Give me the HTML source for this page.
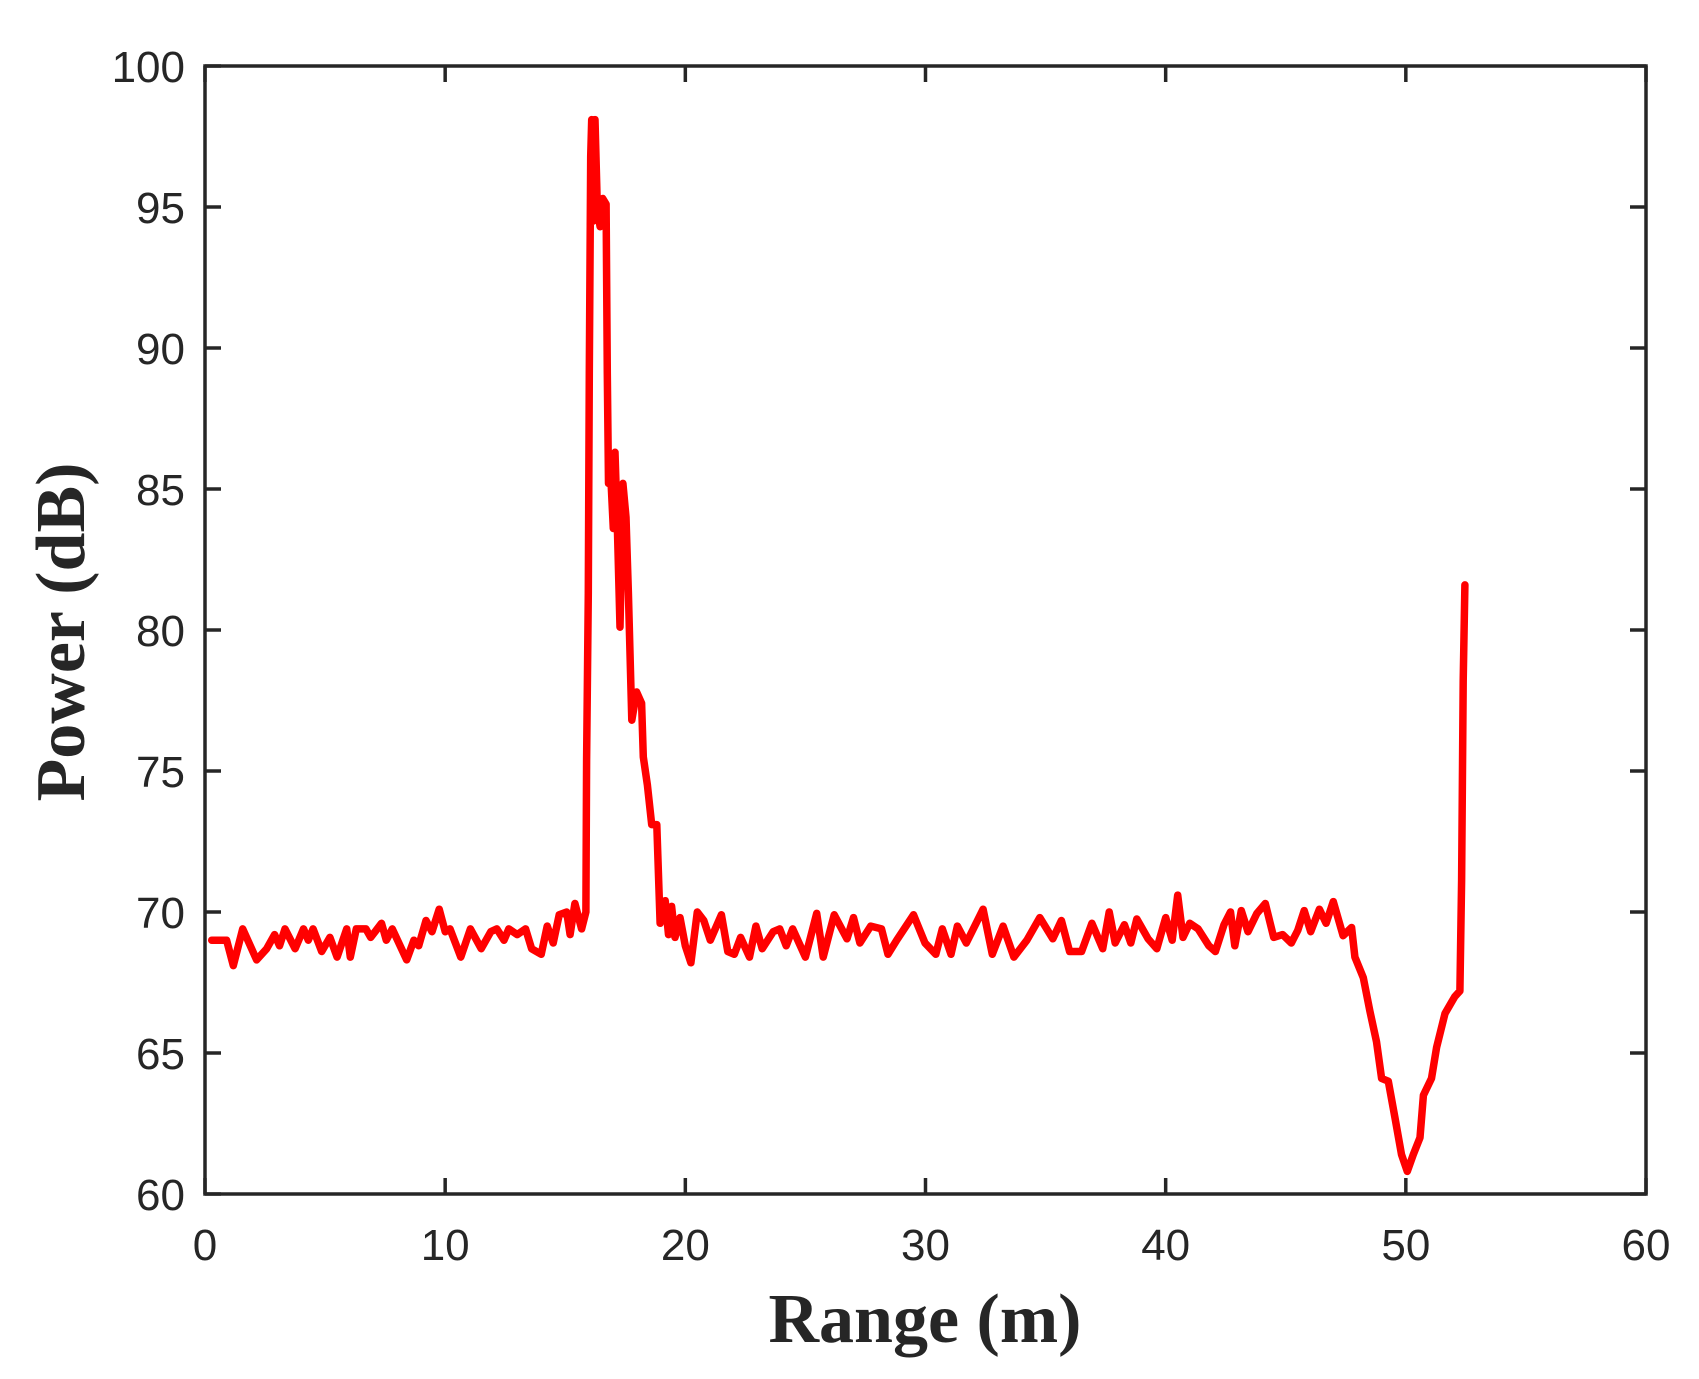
<!DOCTYPE html>
<html><head><meta charset="utf-8"><style>
html,body{margin:0;padding:0;background:#fff;}
svg{display:block;}
</style></head><body>
<svg id="chart" width="1699" height="1379" viewBox="0 0 1699 1379" xmlns="http://www.w3.org/2000/svg">
<rect width="1699" height="1379" fill="#fff"/>
<g id="axes"></g>
<path id="series" fill="none" stroke="#ff0000" stroke-width="7.5" stroke-linejoin="round" stroke-linecap="round"/>
<rect x="205" y="66" width="1441" height="1128" fill="none" stroke="#262626" stroke-width="3.5"/>
<text x="925" y="1342" text-anchor="middle" font-family="Liberation Serif, serif" font-weight="bold" font-size="70" fill="#262626">Range (m)</text>
<text x="0" y="0" transform="translate(84,632) rotate(-90)" text-anchor="middle" font-family="Liberation Serif, serif" font-weight="bold" font-size="70" fill="#262626">Power (dB)</text>
</svg>
<script>
const xTicks = [0,10,20,30,40,50,60];
const yTicks = [60,65,70,75,80,85,90,95,100];
const rangeM = [0.28,0.9,1.18,1.57,2.15,2.57,2.9,3.1,3.33,3.75,4.1,4.3,4.5,4.86,5.2,5.5,5.9,6.05,6.3,6.7,6.9,7.35,7.55,7.8,8.4,8.7,8.9,9.2,9.45,9.75,10.0,10.2,10.65,11.05,11.5,11.9,12.15,12.45,12.65,13.0,13.35,13.6,14.0,14.25,14.5,14.75,15.06,15.2,15.4,15.68,15.86,15.89,15.96,16.0,16.06,16.1,16.17,16.24,16.34,16.45,16.56,16.7,16.75,16.8,16.86,17.0,17.07,17.17,17.28,17.4,17.53,17.63,17.77,17.97,18.18,18.25,18.42,18.6,18.81,18.95,19.16,19.3,19.43,19.57,19.78,20.0,20.23,20.5,20.77,21.04,21.5,21.77,22.04,22.3,22.67,22.94,23.2,23.66,23.93,24.2,24.47,25.0,25.47,25.74,26.2,26.73,27.0,27.27,27.72,28.17,28.44,28.8,29.5,29.98,30.43,30.7,31.06,31.33,31.7,32.4,32.78,33.23,33.68,34.22,34.76,35.3,35.66,36.0,36.5,36.93,37.38,37.65,37.9,38.28,38.55,38.8,39.27,39.63,40.0,40.27,40.5,40.72,41.0,41.35,41.8,42.07,42.43,42.7,42.88,43.15,43.43,43.8,44.15,44.5,44.87,45.23,45.5,45.77,46.04,46.4,46.68,46.98,47.39,47.74,47.88,48.23,48.5,48.78,48.99,49.27,49.55,49.82,50.06,50.31,50.59,50.73,51.07,51.28,51.63,51.9,52.04,52.25,52.32,52.39,52.46];
const powerDb = [69.0,69.0,68.1,69.4,68.3,68.7,69.2,68.8,69.4,68.7,69.4,69.0,69.4,68.6,69.1,68.4,69.4,68.4,69.4,69.4,69.1,69.6,69.0,69.4,68.3,69.0,68.8,69.7,69.3,70.1,69.3,69.4,68.4,69.4,68.7,69.3,69.4,69.0,69.4,69.2,69.4,68.7,68.5,69.5,68.9,69.9,70.0,69.2,70.3,69.4,70.0,75.4,81.3,89.1,96.8,98.1,94.5,98.1,94.9,94.3,95.3,95.1,89.1,85.2,86.1,83.6,86.3,83.6,80.1,85.2,84.0,81.3,76.8,77.8,77.4,75.5,74.5,73.1,73.1,69.6,70.4,69.2,70.2,69.1,69.8,68.8,68.2,70.0,69.7,69.0,69.9,68.6,68.5,69.1,68.4,69.5,68.7,69.3,69.4,68.8,69.4,68.4,69.95,68.4,69.9,69.05,69.8,68.9,69.5,69.4,68.5,69.0,69.9,68.9,68.5,69.4,68.5,69.5,68.9,70.1,68.5,69.5,68.4,69.0,69.8,69.05,69.7,68.6,68.6,69.6,68.7,70.0,68.9,69.55,68.9,69.75,69.05,68.7,69.8,69.0,70.6,69.1,69.6,69.4,68.8,68.6,69.55,70.0,68.8,70.05,69.3,69.95,70.3,69.1,69.2,68.9,69.35,70.05,69.3,70.1,69.6,70.37,69.16,69.45,68.4,67.67,66.5,65.4,64.1,64.0,62.7,61.4,60.8,61.4,62.0,63.5,64.1,65.2,66.4,66.8,67.0,67.2,71.1,78.2,81.6];

const L=205,R=1646,T=66,B=1194;
const xMin=0,xMax=60,yMin=60,yMax=100;
const sx=v=>L+(v-xMin)/(xMax-xMin)*(R-L);
const sy=v=>B-(v-yMin)/(yMax-yMin)*(B-T);
const NS='http://www.w3.org/2000/svg';
const axes=document.getElementById('axes');
function mk(tag,attrs){const e=document.createElementNS(NS,tag);for(const k in attrs)e.setAttribute(k,attrs[k]);return e;}
xTicks.forEach(t=>{
  const x=sx(t);
  const g=mk('g',{});
  
  
  g.appendChild(mk('line',{x1:x,y1:B,x2:x,y2:B-16,stroke:'#262626','stroke-width':3.5}));
  g.appendChild(mk('line',{x1:x,y1:T,x2:x,y2:T+16,stroke:'#262626','stroke-width':3.5}));
  const tx=mk('text',{x:x,y:1260,'text-anchor':'middle','font-family':'Liberation Sans, sans-serif','font-size':44,fill:'#262626'});
  
  
  tx.textContent=t;g.appendChild(tx);axes.appendChild(g);
});
yTicks.forEach(t=>{
  const y=sy(t);
  const g=mk('g',{});
  
  
  g.appendChild(mk('line',{x1:L,y1:y,x2:L+16,y2:y,stroke:'#262626','stroke-width':3.5}));
  g.appendChild(mk('line',{x1:R,y1:y,x2:R-16,y2:y,stroke:'#262626','stroke-width':3.5}));
  const tx=mk('text',{x:185,y:y+16,'text-anchor':'end','font-family':'Liberation Sans, sans-serif','font-size':44,fill:'#262626'});
  
  
  tx.textContent=t;g.appendChild(tx);axes.appendChild(g);
});
let d='';
rangeM.forEach((m,i)=>{d+=(i?'L':'M')+sx(m).toFixed(1)+','+sy(powerDb[i]).toFixed(1);});
document.getElementById('series').setAttribute('d',d);
</script>
</body></html>
